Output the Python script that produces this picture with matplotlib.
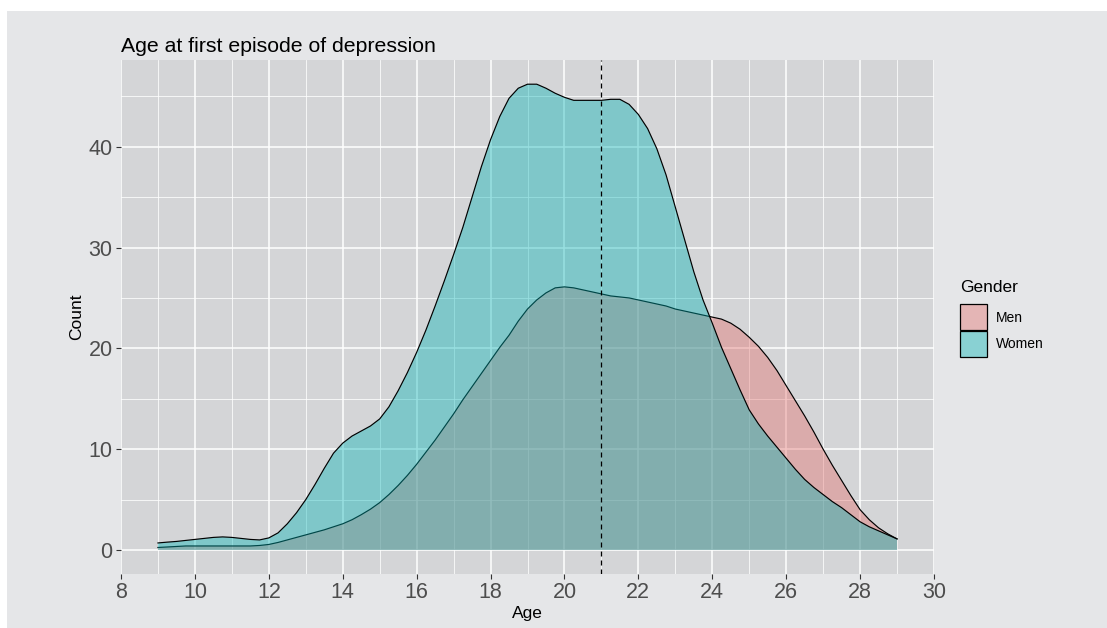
#!/usr/bin/env python3
"""plot.py — age at first episode of depression, density (scaled to counts)
for men vs women, ggplot-grey look, dashed marker at age 21 -> out.png."""
from __future__ import annotations

import matplotlib
matplotlib.use("Agg")
import matplotlib.pyplot as plt
from matplotlib.colors import to_rgba
from matplotlib.patches import Rectangle
from matplotlib.ticker import MultipleLocator

# -- data (quarter-year grid) ---------------------------------------------------
AGE = [9.0, 9.25, 9.5, 9.75, 10.0, 10.25, 10.5, 10.75, 11.0, 11.25, 11.5, 11.75,
       12.0, 12.25, 12.5, 12.75, 13.0, 13.25, 13.5, 13.75, 14.0, 14.25, 14.5, 14.75,
       15.0, 15.25, 15.5, 15.75, 16.0, 16.25, 16.5, 16.75, 17.0, 17.25, 17.5, 17.75,
       18.0, 18.25, 18.5, 18.75, 19.0, 19.25, 19.5, 19.75, 20.0, 20.25, 20.5, 20.75,
       21.0, 21.25, 21.5, 21.75, 22.0, 22.25, 22.5, 22.75, 23.0, 23.25, 23.5, 23.75,
       24.0, 24.25, 24.5, 24.75, 25.0, 25.25, 25.5, 25.75, 26.0, 26.25, 26.5, 26.75,
       27.0, 27.25, 27.5, 27.75, 28.0, 28.25, 28.5, 28.75, 29.0]
MEN = [0.25, 0.3, 0.35, 0.4, 0.4, 0.4, 0.4, 0.4, 0.4, 0.4, 0.4, 0.45,
       0.55, 0.75, 1.0, 1.25, 1.5, 1.75, 2.0, 2.3, 2.6, 3.0, 3.5, 4.05,
       4.7, 5.5, 6.4, 7.4, 8.5, 9.7, 10.9, 12.2, 13.5, 14.9, 16.2, 17.5,
       18.8, 20.1, 21.3, 22.7, 23.9, 24.8, 25.5, 26.0, 26.1, 26.0, 25.8, 25.6,
       25.4, 25.2, 25.1, 25.0, 24.8, 24.6, 24.4, 24.2, 23.9, 23.7, 23.5, 23.3,
       23.1, 22.9, 22.5, 21.9, 21.1, 20.2, 19.1, 17.8, 16.3, 14.8, 13.3, 11.7,
       10.0, 8.4, 6.9, 5.4, 4.0, 3.0, 2.2, 1.6, 1.1]
WOMEN = [0.7, 0.78, 0.85, 0.95, 1.05, 1.15, 1.25, 1.3, 1.25, 1.15, 1.05, 1.0,
         1.2, 1.7, 2.6, 3.7, 5.0, 6.5, 8.1, 9.6, 10.6, 11.3, 11.8, 12.3,
         13.0, 14.2, 15.8, 17.6, 19.6, 21.8, 24.2, 26.7, 29.3, 32.0, 35.0, 38.0,
         40.7, 43.0, 44.8, 45.8, 46.2, 46.2, 45.8, 45.3, 44.9, 44.6, 44.6, 44.6,
         44.6, 44.7, 44.7, 44.2, 43.2, 41.8, 39.8, 37.2, 34.0, 30.8, 27.6, 24.8,
         22.5, 20.1, 18.0, 15.9, 13.9, 12.5, 11.3, 10.2, 9.1, 8.0, 7.0, 6.2,
         5.5, 4.8, 4.2, 3.5, 2.8, 2.3, 1.9, 1.5, 1.1]
GROUPS = ["Men", "Women"]
VLINE_AGE = 21
TITLE = "Age at first episode of depression"

# -- style ----------------------------------------------------------------------
W, H, DPI = 1107, 628, 100
# fills tuned so that alpha-blended over the panel they match the screenshot
FILL = {"Men": "#E46D6A", "Women": "#00B3B5"}
ALPHA = 0.4
BG = "#E5E6E8"
PANEL = "#D4D5D7"
FONT = ["Liberation Sans", "DejaVu Sans"]


def fx(px):
    return px / W


def fy(py):
    return 1 - py / H


def draw_legend(fig):
    """ggplot-style legend drawn by hand: title + touching square keys."""
    fig.text(fx(960), fy(287), "Gender", fontsize=12.5, ha="left", va="center")
    key, top = 27, 304
    for i, g in enumerate(GROUPS):
        y0 = top + i * key
        fig.patches.append(Rectangle((fx(960), fy(y0 + key - 1)), key / W, (key - 1) / H,
                                     transform=fig.transFigure,
                                     facecolor=to_rgba(FILL[g], ALPHA),
                                     edgecolor="black", lw=0.9, zorder=5))
        fig.text(fx(996), fy(y0 + key / 2), g, fontsize=10, ha="left", va="center")


def main():
    plt.rcParams["font.family"] = FONT
    fig = plt.figure(figsize=(W / DPI, H / DPI), dpi=DPI, facecolor="white")
    # grey plot background, with the thin white strip top/left of the source
    fig.patches.append(Rectangle((fx(7), 0), 1, 1 - 11 / H, transform=fig.transFigure,
                                 facecolor=BG, edgecolor="none", zorder=-10))

    # panel: x 121..934 px, y 60..574 px
    ax = fig.add_axes([fx(121), fy(574), 813 / W, 514 / H])
    ax.set_facecolor(PANEL)
    for s in ax.spines.values():
        s.set_visible(False)

    series = {"Men": MEN, "Women": WOMEN}
    z = 2
    for g in GROUPS:
        ax.fill_between(AGE, 0, series[g], facecolor=FILL[g], alpha=ALPHA,
                        edgecolor="none", zorder=z)
        ax.plot(AGE, series[g], color="black", lw=0.85, zorder=z + 0.5)
        z += 1
    ax.axvline(VLINE_AGE, color="black", lw=0.9, ls=(0, (4.0, 3.2)), zorder=10)

    ax.set_xlim(8, 30)
    ax.set_ylim(-2.38, 48.6)
    ax.xaxis.set_major_locator(MultipleLocator(2))
    ax.xaxis.set_minor_locator(MultipleLocator(1))
    ax.yaxis.set_major_locator(MultipleLocator(10))
    ax.yaxis.set_minor_locator(MultipleLocator(5))
    ax.set_axisbelow(True)
    ax.grid(which="major", color="white", lw=1.1)
    ax.grid(which="minor", color="white", lw=0.55)
    ax.tick_params(which="major", length=3.5, width=0.8, color="#333333",
                   labelsize=15.5, labelcolor="#4D4D4D", pad=2.5)
    ax.tick_params(which="minor", length=0)

    ax.set_xlabel("Age", fontsize=12.5, color="black", labelpad=2)
    ax.set_ylabel("Count", fontsize=12.5, color="black", labelpad=3)
    ax.set_title(TITLE, loc="left", fontsize=15.3, color="black", pad=6)

    draw_legend(fig)

    fig.savefig("out.png", dpi=DPI, facecolor=fig.get_facecolor())
    return 0


if __name__ == "__main__":
    raise SystemExit(main())
